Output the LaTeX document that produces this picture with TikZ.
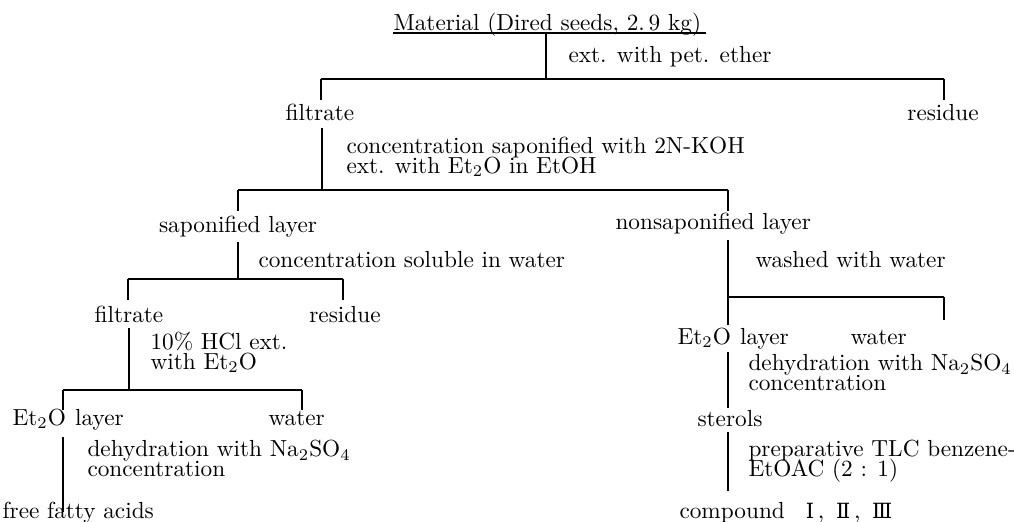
\documentclass[tikz,border=0pt]{standalone}
\usepackage{fontspec}
\newfontfamily\numfont[Scale=0.9]{DejaVu Serif}
\tikzset{
  label/.style={anchor=base west, inner sep=0pt},
  item/.style={anchor=base, inner sep=0pt},
  step note/.style={anchor=base west, inner sep=0pt, align=left},
}
\begin{document}
\begin{tikzpicture}[x=0.43pt, y=-0.43pt, line width=0.45pt]
	\useasboundingbox (0,0) rectangle (1014,521);
	% Shapes
	\coordinate (U1) at (393,33);
	\coordinate (U2) at (706,33);
	\draw (U1) -- (U2);
	
	\coordinate (M) at (546,33);
	\coordinate (A) at (546,79);
	\coordinate (AL) at (321,79);
	\coordinate (AR) at (944,79);
	\coordinate (AL2) at (321,100);
	\coordinate (AR2) at (944,100);
	
	\coordinate (B0) at (322,128);
	\coordinate (B) at (322,190);
	\coordinate (BL) at (238,190);
	\coordinate (BR) at (728,190);
	\coordinate (BL2) at (238,211);
	\coordinate (BR2) at (728,211);
	
	\coordinate (C0) at (238,242);
	\coordinate (C) at (238,279);
	\coordinate (CL) at (128,279);
	\coordinate (CR) at (343,279);
	\coordinate (CL2) at (128,300);
	\coordinate (CR2) at (343,300);
	
	\coordinate (D0) at (129,328);
	\coordinate (D) at (129,390);
	\coordinate (DL) at (63,390);
	\coordinate (DR) at (302,390);
	\coordinate (DL2) at (63,410);
	\coordinate (DR2) at (302,410);
	
	\coordinate (E0) at (63,437);
	\coordinate (E) at (63,512);
	
	\coordinate (F0) at (728,240);
	\coordinate (F) at (728,297);
	\coordinate (FR) at (944,297);
	\coordinate (F2) at (728,325);
	\coordinate (FR2) at (944,320);
	
	\coordinate (G0) at (728,352);
	\coordinate (G) at (728,408);
	
	\coordinate (H0) at (728,432);
	\coordinate (H) at (728,491);
	
	\foreach \a/\b in {M/A, AL/AR, AL/AL2, AR/AR2,
	                   B0/B, BL/BR, BL/BL2, BR/BR2,
	                   C0/C, CL/CR, CL/CL2, CR/CR2,
	                   D0/D, DL/DR, DL/DL2, DR/DR2,
	                   E0/E, F0/F, F/FR, F/F2, FR/FR2,
	                   G0/G, H0/H} {
		\draw (\a) -- (\b);
	}
	
	% Labels
	\node[label] (mat) at (393,30) {Material (Dired seeds, 2.\,9 kg)};
	\node[label] (pet) at (568,62) {ext. with pet. ether};
	
	\node[item] (filt1) at (320,120) {filtrate};
	\node[item] (res1) at (943,120) {residue};
	\node[step note] (sapon) at (346,173) {concentration saponified with 2N-KOH\\[-3.7pt]
		ext. with Et$_2$O in EtOH};
	
	\node[item] (sapl) at (238,232) {saponified layer};
	\node[label] (nsapl) at (615,229) {nonsaponified layer};
	\node[label] (sol) at (258,267) {concentration soluble in water};
	\node[label] (wash) at (755,267) {washed with water};
	
	\node[item] (filt2) at (129,322) {filtrate};
	\node[item] (res2) at (345,322) {residue};
	\node[step note] (hcl) at (150,369) {10\% HCl ext.\\[-3.7pt] with Et$_2$O};
	
	\node[label] (etl1) at (12,425) {Et$_2$O\hspace{0.4em}layer};
	\node[label] (wat1) at (268,425) {water};
	\node[step note] (dry1) at (87,476) {dehydration with Na$_2$SO$_4$\\[-3.7pt] concentration};
	\node[label] (ffa) at (2,518) {free fatty acids};
	
	\node[label] (etl2) at (677,344) {Et$_2$O\hspace{0.4em}layer};
	\node[label] (wat2) at (850,344) {water};
	\node[step note] (dry2) at (748,390) {dehydration with Na$_2$SO$_4$\\[-3.7pt] concentration};
	\node[label] (ster) at (697,426) {sterols};
	\node[step note] (tlc) at (748,476) {preparative TLC benzene-\\[-3.7pt] EtOAC (2 : 1)};
	\node[label] (cpd) at (679,518) {compound\hspace{0.9em}{\numfont Ⅰ}\,,\hspace{0.5em}{\numfont Ⅱ}\,,\hspace{0.5em}{\numfont Ⅲ}};
\end{tikzpicture}
\end{document}
